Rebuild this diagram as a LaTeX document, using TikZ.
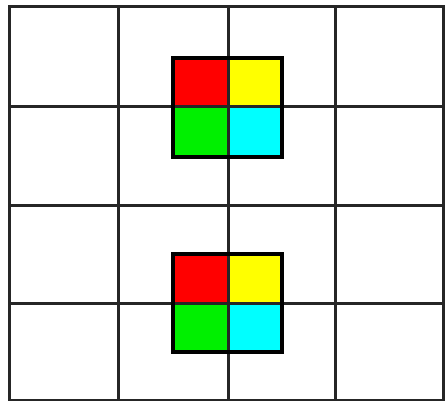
\documentclass[tikz,border=0pt]{standalone}
\usepackage{tikz}
\definecolor{cred}{RGB}{255,0,0}
\definecolor{cyellow}{RGB}{255,255,0}
\definecolor{cgreen}{RGB}{0,240,0}
\definecolor{ccyan}{RGB}{0,255,255}
\tikzset{
  gridline/.style={line width=3pt,color=black!85},
  quadline/.style={line width=3.2pt,color=black}
}

\begin{document}
\begin{tikzpicture}[x=1pt,y=-1pt]
\useasboundingbox (0,0) rectangle (445,401);
\fill[white] (0,0) rectangle (445,401);

% upper colour block
\fill[cred] (173,58) rectangle (228,107);
\fill[cyellow] (228,58) rectangle (282,107);
\fill[cgreen] (173,107) rectangle (228,157);
\fill[ccyan] (228,107) rectangle (282,157);
% lower colour block
\fill[cred] (173,254) rectangle (228,303);
\fill[cyellow] (228,254) rectangle (282,303);
\fill[cgreen] (173,303) rectangle (228,352);
\fill[ccyan] (228,303) rectangle (282,352);

% grid
\draw[gridline] (9,7) rectangle (443,400);
\draw[gridline] (118,7) -- (118,400);
\draw[gridline] (228,7) -- (228,400);
\draw[gridline] (335,7) -- (335,400);
\draw[gridline] (9,107) -- (443,107);
\draw[gridline] (9,206) -- (443,206);
\draw[gridline] (9,303) -- (443,303);

% block outlines
\draw[quadline] (173,58) rectangle (282,157);
\draw[quadline] (173,254) rectangle (282,352);
\end{tikzpicture}
\end{document}
